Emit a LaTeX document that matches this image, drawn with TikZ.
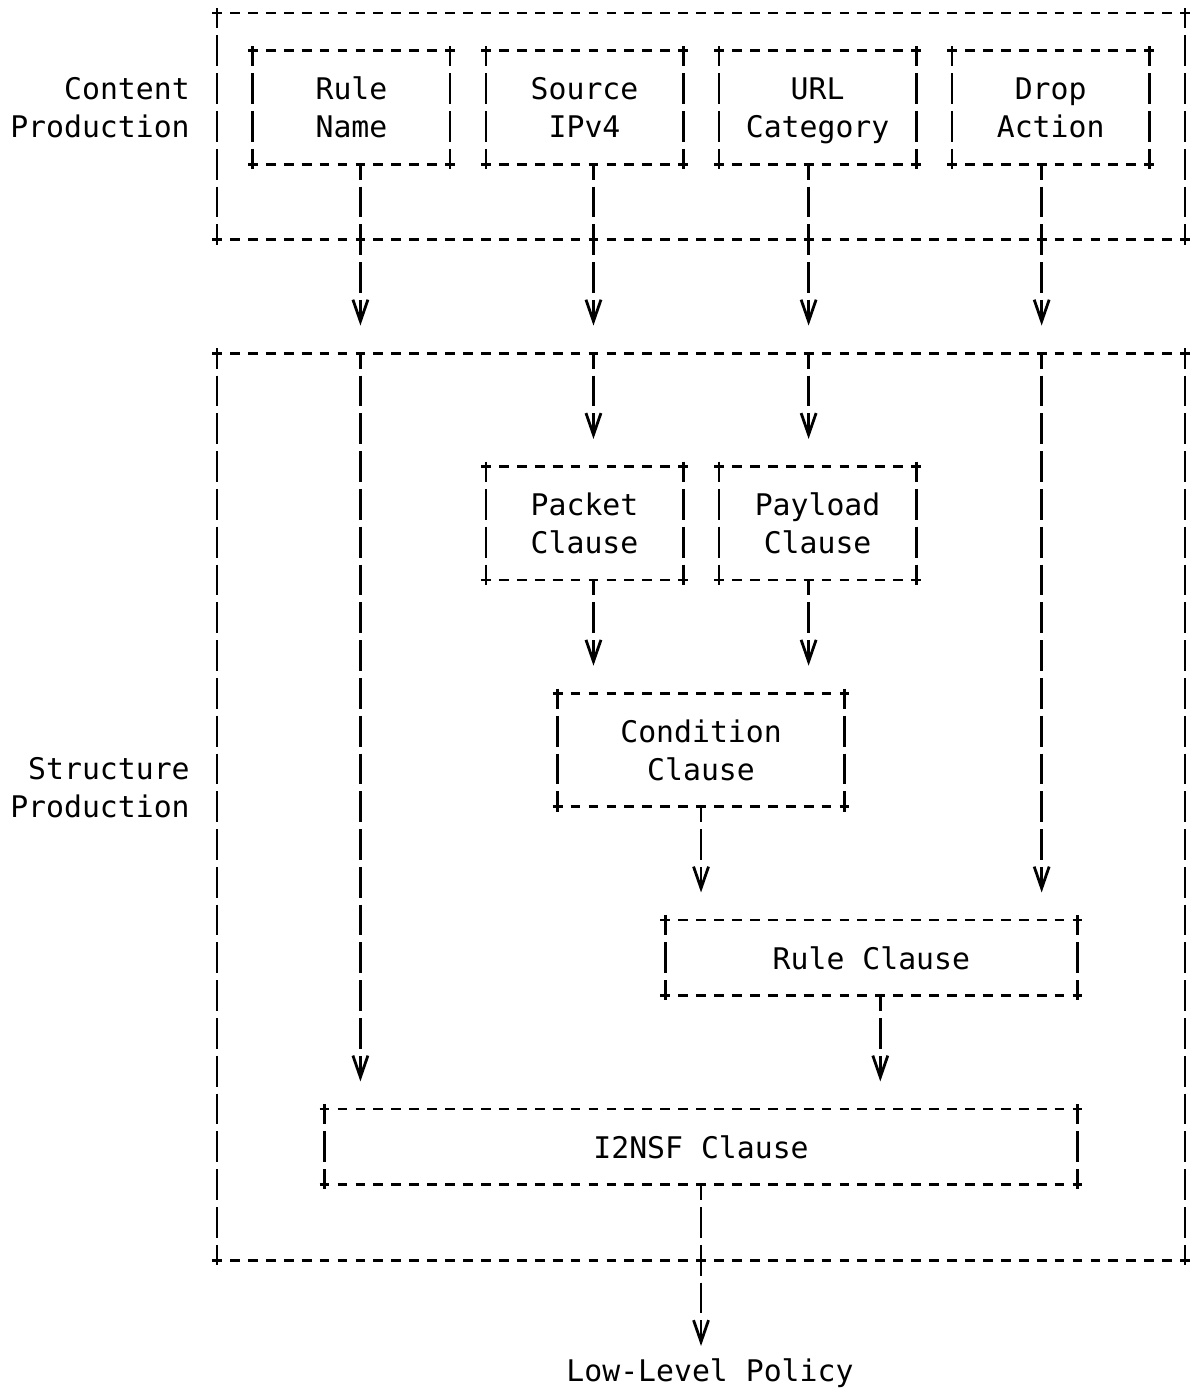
\documentclass[tikz,border=0pt]{standalone}
\usepackage{fontspec}
\setmonofont{DejaVu Sans Mono}
\usetikzlibrary{positioning,arrows.meta}
\definecolor{ink}{HTML}{000000}

\begin{document}
\begin{tikzpicture}[
    x=8.965pt, y=18.9pt,
    node distance=17.93pt,
    every node/.style={font=\ttfamily\fontsize{14.9}{18.9}\selectfont, text=ink},
    field/.style={rectangle, inner sep=0pt, outer sep=0pt,
                  minimum width=98.615pt, minimum height=56.7pt, align=center},
    stage/.style={rectangle, inner sep=0pt, outer sep=0pt,
                  minimum width=484.11pt, minimum height=#1},
    clause/.style={rectangle, inner sep=0pt, outer sep=0pt,
                   minimum width=#1, align=center},
    sidelabel/.style={align=right, inner sep=0pt},
    hdash/.style={draw=ink, line width=1.4pt, dash pattern=on 4.9pt off 4.065pt},
    vdash/.style={draw=ink, line width=1.4pt, dash pattern=on 15.4pt off 3.5pt},
    link/.style={vdash, dash phase=7.7pt},
    flow/.style={link, shorten >=13.8pt, -{Straight Barb[length=10.8pt,width=7.5pt]}}
]
\useasboundingbox (-1.104,0.344) rectangle (65.77,-36.46);

% Content production
\node[stage=113.4pt] (cf) at (38,-3) {};
\node[field] (b1) at (18.5,-2.5) {Rule\\Name};
\node[field, right=of b1] (b2) {Source\\IPv4};
\node[field, right=of b2] (b3) {URL\\\smash{Category}};
\node[field, right=of b3] (b4) {Drop\\Action};
\node[sidelabel, left=13.45pt of cf, yshift=9.45pt] (cl) {Content\\Production};

% Structure production
\node[stage=453.6pt] (sf) at (38,-21) {};
\node[field] (pk) at (31.5,-13.5) {Packet\\Clause};
\node[field, right=of pk] (pl) {Payload\\Clause};
\node[clause=143.44pt, minimum height=56.7pt] (cd) at (38,-19.5) {Condition\\Clause};
\node[clause=206.195pt, minimum height=37.8pt] (rc) at (47.5,-25) {Rule Clause};
\node[clause=376.53pt, minimum height=37.8pt] (ic) at (38,-30) {I2NSF Clause};
\node[sidelabel, left=13.45pt of sf, yshift=9.45pt] (sl) {Structure\\Production};

\node[inner sep=0pt] (llp) at (38.5,-36) {Low-Level Policy};

% borders
\foreach \n in {cf,sf,b1,b2,b3,b4,pk,pl,cd,rc,ic} {
  \draw[hdash] ([xshift=-2.45pt]\n.north west) -- ([xshift=2.45pt]\n.north east)
               ([xshift=-2.45pt]\n.south west) -- ([xshift=2.45pt]\n.south east);
  \draw[vdash, dash phase=5.3pt] ([yshift=2.4pt]\n.north west) -- ([yshift=-2.4pt]\n.south west)
               ([yshift=2.4pt]\n.north east) -- ([yshift=-2.4pt]\n.south east);
}

% exits
\coordinate (b1x) at ([xshift=4.48pt]b1.south);
\coordinate (b2x) at ([xshift=4.48pt]b2.south);
\coordinate (b3x) at ([xshift=-4.48pt]b3.south);
\coordinate (b4x) at ([xshift=-4.48pt]b4.south);
\coordinate (pkx) at ([xshift=4.48pt]pk.south);
\coordinate (plx) at ([xshift=-4.48pt]pl.south);
\coordinate (rcx) at ([xshift=4.48pt]rc.south);

% arrows
\foreach \s in {b1x,b2x,b3x,b4x}
  \draw[flow] (\s) -- (\s |- sf.north);
\draw[flow] (b1x |- sf.north) -- (b1x |- ic.north);
\draw[flow] (b2x |- sf.north) -- (b2x |- pk.north);
\draw[flow] (b3x |- sf.north) -- (b3x |- pl.north);
\draw[flow] (b4x |- sf.north) -- (b4x |- rc.north);
\draw[flow] (pkx) -- (pkx |- cd.north);
\draw[flow] (plx) -- (plx |- cd.north);
\draw[flow] (cd.south) -- (rc.north -| cd.south);
\draw[flow] (rcx) -- (rcx |- ic.north);
\draw[link] (ic.south) -- (sf.south);
\draw[flow] (sf.south) -- (sf.south |- llp.center);

\end{tikzpicture}
\end{document}
